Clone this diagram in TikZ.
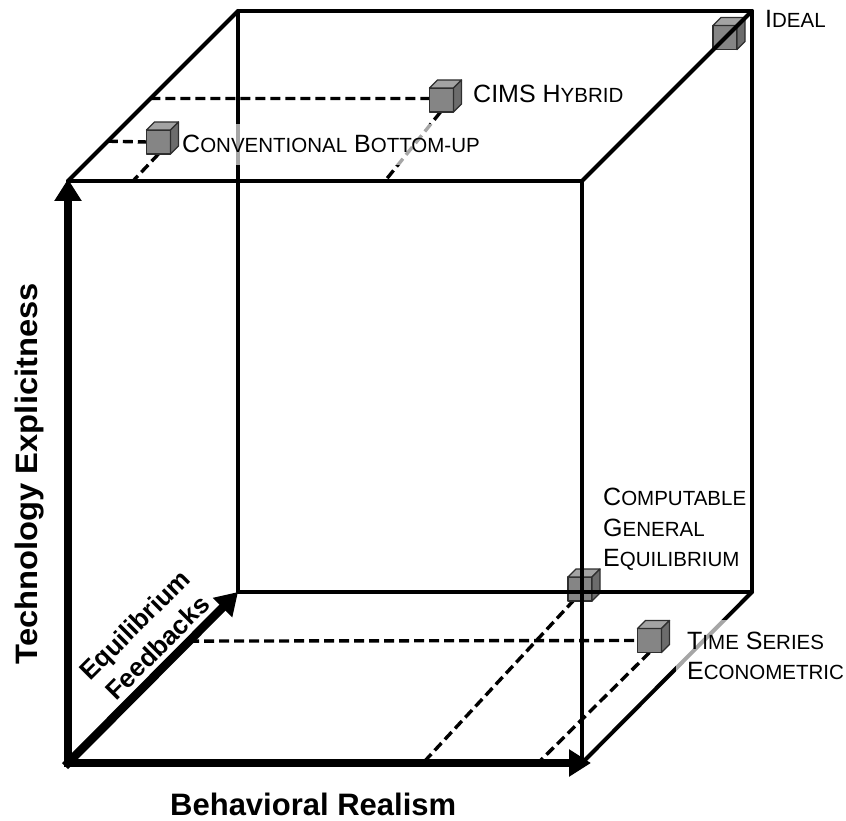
\documentclass[tikz,border=0pt]{standalone}
\usepackage{fontspec}
\setmainfont{Liberation Sans}
\usetikzlibrary{arrows.meta,calc}
\newcommand\mysc[1]{{\fontsize{20.5pt}{30.5pt}\selectfont #1}}
\definecolor{cubefront}{HTML}{858585}
\definecolor{cubetop}{HTML}{A3A3A3}
\definecolor{cubeside}{HTML}{6C6C6C}
\definecolor{cubeedge}{HTML}{2E2E2E}
\tikzset{
 edgeline/.style={line width=4pt, line join=round, line cap=round},
 axarrow/.style={line width=8.5pt, line cap=rect, -{Triangle[length=22pt,width=26pt]}},
 guideline/.style={line width=3.4pt, dash pattern=on 10pt off 5pt},
 lbl/.style={font=\fontsize{25pt}{30.5pt}\selectfont, inner xsep=11pt, inner ysep=12pt,
   fill=white, fill opacity=0.65, text opacity=1, align=left},
 axlbl/.style={font=\bfseries\fontsize{31pt}{36pt}\selectfont, inner sep=0pt},
 gcube/.pic={
  \filldraw[fill=cubefront, draw=cubeedge, line width=1.3pt, line join=round] (-12,-12) rectangle (12,12);
  \filldraw[fill=cubetop, draw=cubeedge, line width=1.3pt, line join=round] (-12,-12) -- (-4,-20) -- (20,-20) -- (12,-12) -- cycle;
  \filldraw[fill=cubeside, draw=cubeedge, line width=1.3pt, line join=round] (12,-12) -- (20,-20) -- (20,4) -- (12,12) -- cycle;
 }
}
\begin{document}
\begin{tikzpicture}[x=1pt,y=-1pt]
\useasboundingbox (0,0) rectangle (846,821);
% cube corners
\coordinate (ftl) at (68,181);
\coordinate (ftr) at (582,181);
\coordinate (fbr) at (582,763);
\coordinate (o) at (68,763);
\coordinate (btl) at (238,11);
\coordinate (btr) at (752,11);
\coordinate (bbr) at (752,592);
\coordinate (bbl) at (238,592);
\coordinate (ytip) at (68,179);
\coordinate (xtip) at (591,763);
\coordinate (ztip) at (238,592);
% model positions (front face centres of small cubes)
\coordinate (ideal) at (725,37.5);
\coordinate (cims) at (441.5,100);
\coordinate (conv) at (158.5,142);
\coordinate (cge) at (580,589);
\coordinate (ts) at (649.5,640.5);
% guide end points
\coordinate (convL) at ($(ftl)!0.234!(btl)$);
\coordinate (convF) at (133,181);
\coordinate (cimsL) at ($(ftl)!0.485!(btl)$);
\coordinate (cimsF) at (385,181);
\coordinate (cgeF) at (423,763);
\coordinate (tsL) at ($(o)!0.713!(bbl)$);
\coordinate (tsF) at (538,763);
% dashed guides
\draw[guideline] (convL) -- ($(conv)+(-11,0)$);
\draw[guideline] ($(conv)+(0,12)$) -- (convF);
\draw[guideline] (cimsL) -- ($(cims)+(-11,-1.5)$);
\draw[guideline] ($(cims)+(-1,12)$) -- (cimsF);
\draw[guideline] ($(cge)+(-6,11)$) -- (cgeF);
\draw[guideline] (tsL) -- ($(ts)+(-11,0)$);
\draw[guideline] ($(ts)+(0,12)$) -- (tsF);
% cubes lying under the frame lines
\pic at (cge) {gcube};
\pic at (ideal) {gcube};
% frame
\draw[edgeline] (ftl) -- (ftr) -- (fbr);
\draw[edgeline] (btl) -- (btr) -- (bbr) -- (bbl) -- cycle;
\draw[edgeline] (ftl) -- (btl);
\draw[edgeline] (ftr) -- (btr);
\draw[edgeline] (fbr) -- (bbr);
% axes
\draw[axarrow] (o) -- (ytip);
\draw[axarrow] (o) -- (xtip);
\draw[axarrow] (o) -- (ztip);
% labels
\node[lbl, anchor=base west] (idealT) at (754,28) {I\mysc{DEAL}};
\node[lbl, anchor=base west] (cimsT) at (462,103) {CIMS H\mysc{YBRID}};
\node[lbl, anchor=base west] (convT) at (171,153) {C\mysc{ONVENTIONAL} B\mysc{OTTOM-UP}};
\node[lbl, anchor=west, fill=none] (cgeT) at (592,529.6) {C\mysc{OMPUTABLE}\\G\mysc{ENERAL}\\E\mysc{QUILIBRIUM}};
\node[lbl, anchor=west, font=\fontsize{25pt}{30pt}\selectfont] (tsT) at (676,656) {T\mysc{IME} S\mysc{ERIES}\\E\mysc{CONOMETRIC}};
% cubes on top
\pic at (conv) {gcube};
\pic at (cims) {gcube};
\pic at (ts) {gcube};
% axis titles
\node[axlbl, anchor=base west] (brT) at (170,815) {Behavioral Realism};
\node[axlbl, rotate=90, anchor=base east] (teT) at (37,283) {\scalebox{1.055}[1]{Technology Explicitness}};
\node[axlbl, font=\bfseries\fontsize{26pt}{32pt}\selectfont, rotate=45, align=center] (eqT) at (146,636) {Equilibrium\\Feedbacks};
\end{tikzpicture}
\end{document}
